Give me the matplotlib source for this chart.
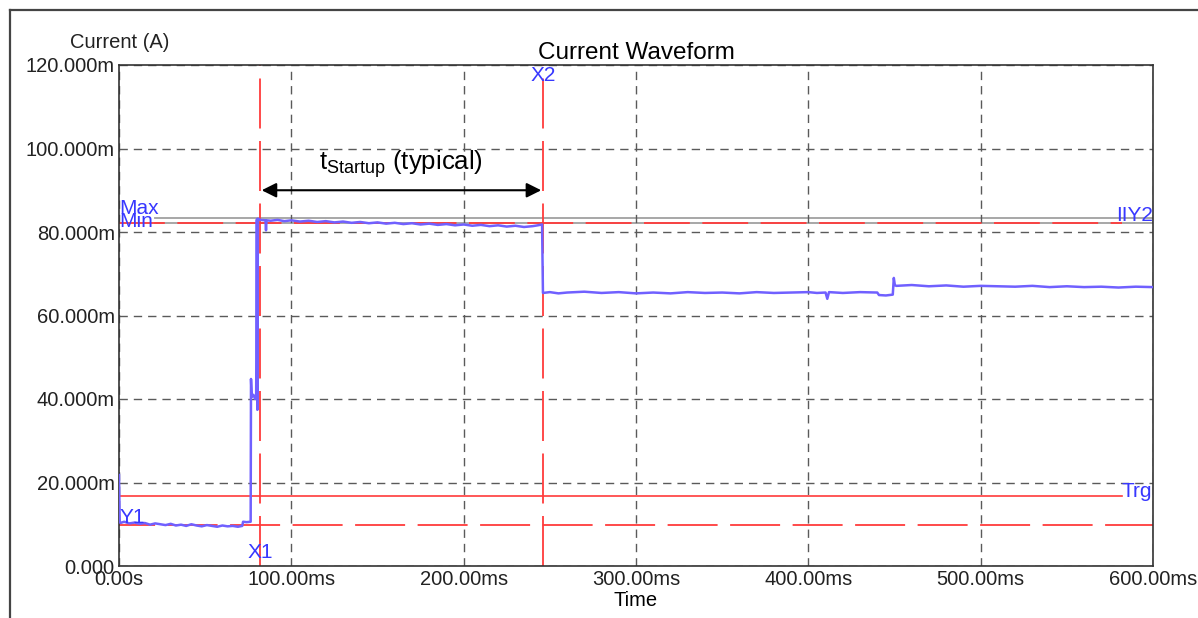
import matplotlib
matplotlib.use("Agg")
import matplotlib.pyplot as plt
from matplotlib.lines import Line2D

plt.rcParams['font.family'] = ['Liberation Sans', 'DejaVu Sans']
plt.rcParams['lines.scale_dashes'] = False
plt.rcParams['mathtext.fontset'] = 'custom'
plt.rcParams['mathtext.rm'] = 'Liberation Sans'

# ---- data (time in ms, current in mA) ----
t_ms = [0.0, 0.4, 0.8, 3, 6, 9, 12, 15, 18, 21, 24, 27, 30, 33, 36, 39, 42, 45,
        48, 51, 54, 57, 60, 63, 66, 69, 71.5, 72.0, 74.0, 76.4,
        76.6, 77.0, 78.0, 79.0, 79.6, 80.0, 80.3, 80.6,
        82, 85, 85.3, 85.6, 88, 92, 96, 100, 105, 110, 115, 120, 125, 130, 135,
        140, 145, 150, 155, 160, 165, 170, 175, 180, 185, 190, 195, 200, 205,
        210, 215, 220, 225, 230, 235, 240, 243, 245.5,
        246.0, 250, 255, 260, 270, 280, 290, 300, 310, 320, 330, 340, 350, 360,
        370, 380, 390, 400, 405, 410, 411, 412, 420, 430, 440, 441, 445, 449,
        449.6, 450.2, 451, 460, 470, 480, 490, 500, 510, 520, 530, 540, 550,
        560, 570, 580, 590, 600]
i_ma = [21.8, 10.8, 10.3, 10.6, 10.2, 10.4, 10.1, 10.3, 9.9, 10.2, 10.0, 9.8,
        10.1, 9.7, 9.9, 9.6, 10.0, 9.7, 9.5, 9.8, 9.6, 9.4, 9.7, 9.5, 9.6, 9.4,
        9.6, 10.6, 10.5, 10.6,
        44.8, 40.5, 41.0, 40.0, 40.5, 83.0, 37.4, 83.2,
        82.9, 82.8, 80.4, 82.8, 82.7, 82.9, 82.6, 82.8, 82.5, 82.7, 82.4, 82.6,
        82.3, 82.5, 82.2, 82.4, 82.1, 82.3, 82.0, 82.2, 81.9, 82.1, 81.8, 82.0,
        81.7, 81.9, 81.6, 81.8, 81.5, 81.7, 81.4, 81.6, 81.3, 81.5, 81.2, 81.4,
        81.6, 81.8,
        65.4, 65.6, 65.3, 65.5, 65.7, 65.4, 65.6, 65.3, 65.5, 65.3, 65.6, 65.4,
        65.5, 65.3, 65.6, 65.4, 65.5, 65.6, 65.4, 65.5, 64.0, 65.6, 65.4, 65.6,
        65.5, 64.9, 64.8, 65.0, 69.0, 67.3, 67.1, 67.3, 67.0, 67.2, 66.9, 67.1,
        67.0, 66.9, 67.1, 66.8, 67.0, 66.8, 66.9, 66.7, 66.9, 66.8]

x_ticks = [0, 100, 200, 300, 400, 500, 600]
x_labels = ['0.00s', '100.00ms', '200.00ms', '300.00ms', '400.00ms',
            '500.00ms', '600.00ms']
y_ticks = [0, 20, 40, 60, 80, 100, 120]
y_labels = ['0.000', '20.000m', '40.000m', '60.000m', '80.000m',
            '100.000m', '120.000m']

x1_ms, x2_ms = 81.8, 246.0
y1_ma, y2_ma = 9.8, 82.2
trg_ma = 16.8
max_ma, min_ma = 83.4, 82.2

trace_col = '#7060ff'
red = '#ff3b3b'
lbl_col = '#3838ff'
grid_col = '#5a5a5a'

fig = plt.figure(figsize=(11.98, 6.18), dpi=100)
ax = fig.add_axes([119 / 1198, 52 / 618, 1034 / 1198, 501 / 618])

ax.set_xlim(0, 600)
ax.set_ylim(0, 120)
ax.set_xticks(x_ticks, x_labels)
ax.set_yticks(y_ticks, y_labels)
ax.tick_params(length=0, labelsize=14.5, colors='#222222', pad=3)
for s in ax.spines.values():
    s.set_color('#333333')
    s.set_linewidth(1.2)
ax.grid(True, color=grid_col, linestyle=(0, (6, 4.3)), linewidth=1.0, zorder=0)

# reference lines
ax.axhline(max_ma, xmin=21 / 600, color='#a0a0a0', lw=1.3, zorder=1)
ax.axhline(min_ma, xmin=21 / 600, color='#a0a0a0', lw=1.3, zorder=1)
ax.plot([0, 582], [y2_ma, y2_ma], color=red, lw=1.3,
        linestyle=(0, (33, 9)), zorder=2)
ax.plot([0, 582], [trg_ma, trg_ma], color=red, lw=1.2, zorder=2)
ax.axhline(y1_ma, color=red, lw=1.3, linestyle=(10, (36, 9)), zorder=2)
ax.axvline(x1_ms, color=red, lw=1.3, linestyle=(0, (36, 9)), zorder=2)
ax.axvline(x2_ms, color=red, lw=1.3, linestyle=(0, (36, 9)), zorder=2)

ax.plot(t_ms, i_ma, color=trace_col, lw=1.8, zorder=3)

# cursor labels
lbl = dict(color=lbl_col, fontsize=15, zorder=4)
ax.text(x1_ms, 3.3, 'X1', ha='center', va='center', **lbl)
ax.text(x2_ms, 117.4, 'X2', ha='center', va='center', **lbl)
ax.text(0.3, 11.6, 'Y1', ha='left', va='center', **lbl)
ax.text(582, 17.8, 'Trg', ha='left', va='center', clip_on=False, **lbl)
ax.text(0.3, 85.6, 'Max', ha='left', va='center', **lbl)
ax.text(0.3, 82.4, 'Min', ha='left', va='center', **lbl)
ax.text(600, 84.0, 'IIY2', ha='right', va='center', **lbl)

# startup time annotation
ax.annotate('', xy=(x1_ms + 1, 90), xytext=(x2_ms - 1, 90),
            arrowprops=dict(arrowstyle='<|-|>', color='black', lw=1.5,
                            mutation_scale=22, shrinkA=0, shrinkB=0))
ax.text((x1_ms + x2_ms) / 2, 96.2, r'$\mathregular{t_{Startup}}$ (typical)',
        ha='center', va='center', fontsize=18.5)

ax.set_title('Current Waveform', fontsize=17.5, pad=4)
ax.set_xlabel('Time', fontsize=14.5, labelpad=1)
fig.text(120 / 1198, 1 - 43 / 618, 'Current (A)', ha='center', va='center',
         fontsize=14.5, color='#222222')

# outer frame (left and top edges)
fx, fy = 10 / 1198, 1 - 10 / 618
fig.add_artist(Line2D([fx, fx], [0, fy], transform=fig.transFigure,
                      color='#444444', lw=1.6))
fig.add_artist(Line2D([fx, 1], [fy, fy], transform=fig.transFigure,
                      color='#444444', lw=1.6))

fig.savefig('out.png', dpi=100)
